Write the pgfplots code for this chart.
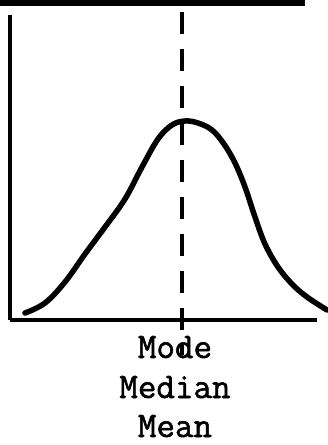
\documentclass[border=0pt]{standalone}
\usepackage{fontspec}
\newfontfamily\tw{Latin Modern Mono}[FakeBold=1.5]
\usepackage{pgfplots}
\pgfplotsset{compat=1.18}
\begin{document}
\begin{tikzpicture}
\begin{axis}[
 scale only axis, width=307pt, height=305pt,
 xmin=10, xmax=317, ymin=0, ymax=305,
 axis lines=left, axis line style={line width=3.5pt, -},
 xtick=\empty, ytick=\empty, clip=false,
]
\addplot[line width=5.5pt, smooth, tension=0.6, line cap=round] coordinates {
(25,7) (45,17) (65,38) (85,66) (105,93) (125,121) (142,153) (158,181) (172,195) (185,199) (198,197) (212,190) (224,176) (235,157) (245,133) (255,103) (265,76) (278,53) (292,36) (307,23) (327,10)
};
\addplot[line width=3.5pt, dash pattern=on 22pt off 15pt] coordinates {(182,308) (182,-35)};
\draw[line width=6pt] (axis cs:0,317) -- (axis cs:305,317);
\node[font=\fontsize{36}{40}\selectfont\tw, anchor=base, inner sep=0pt] at (axis cs:175,-38) {Mode};
\node[font=\fontsize{36}{40}\selectfont\tw, anchor=base, inner sep=0pt] at (axis cs:175,-78) {Median};
\node[font=\fontsize{36}{40}\selectfont\tw, anchor=base, inner sep=0pt] at (axis cs:175,-117) {Mean};
\coordinate (bl) at (axis cs:0,-125);
\coordinate (tr) at (axis cs:328,320);
\end{axis}
\pgfresetboundingbox
\path (bl) rectangle (tr);
\end{tikzpicture}
\end{document}
